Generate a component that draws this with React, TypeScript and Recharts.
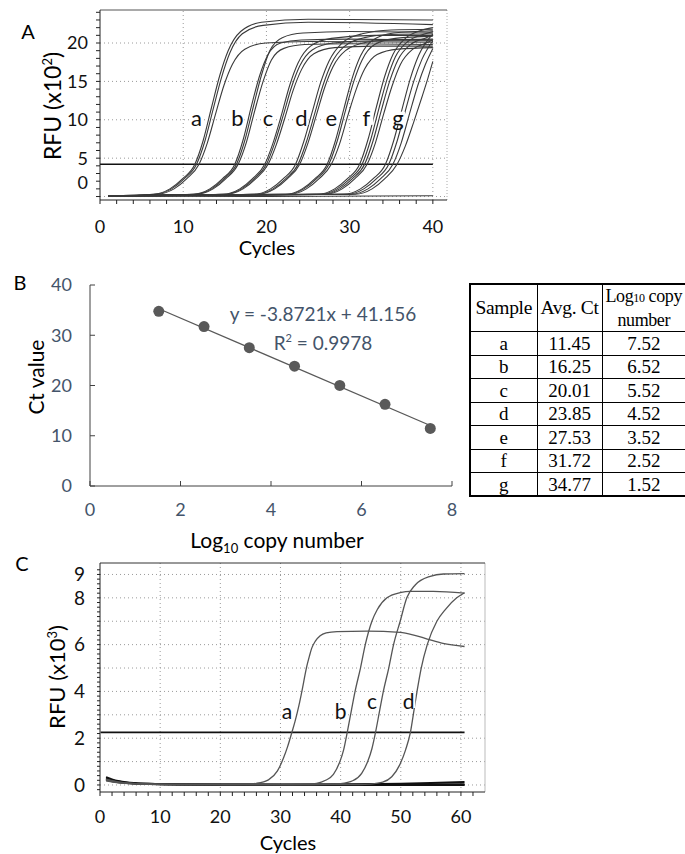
import React from "react";
import { LineChart, Line, XAxis, YAxis, ReferenceLine, ReferenceDot, ComposedChart, Scatter } from "recharts";

const FONT = "Lato, 'Open Sans', sans-serif";
const SERIF = "'Liberation Serif', 'Times New Roman', serif";
const BLUE = "#44546A";

// ---------- panel A: amplification curves (cycle, RFU x10^2) ----------
const curvesA: number[][][] = [
  [[1,0.1],[6.4,0.3],[8.4,1.0],[9.9,2.3],[11.4,4.2],[12.4,7.3],[13.4,11.6],[14.4,15.8],[15.4,19.0],[16.9,21.5],[19.4,22.7],[25,23.1],[40,23.0]],
  [[1,0.1],[6.6,0.3],[8.6,1.0],[10.1,2.3],[11.6,4.2],[12.6,7.2],[13.6,11.4],[14.6,15.5],[15.6,18.7],[17.1,21.2],[19.6,22.3],[25,22.7],[40,22.4]],
  [[1,0.1],[6.9,0.3],[8.9,1.0],[10.4,2.3],[11.9,4.2],[12.9,7.0],[13.9,10.8],[14.9,14.5],[15.9,17.2],[17.4,19.2],[19.9,20.0],[25,20.2],[40,20.1]],
  [[1,0.1],[11.2,0.3],[13.2,1.0],[14.7,2.3],[16.2,4.2],[17.2,7.4],[18.2,11.8],[19.2,15.8],[20.2,18.5],[21.7,20.0],[24.2,20.4],[30,20.5],[40,20.4]],
  [[1,0.1],[11.4,0.3],[13.4,1.0],[14.9,2.3],[16.4,4.2],[17.4,7.3],[18.4,11.6],[19.4,15.8],[20.4,19.0],[21.9,20.7],[24.4,21.3],[30,21.5],[40,21.4]],
  [[1,0.1],[11.6,0.3],[13.6,1.0],[15.1,2.3],[16.6,4.2],[17.6,7.1],[18.6,11.2],[19.6,15.0],[20.6,17.8],[22.1,19.3],[24.6,19.8],[30,19.9],[40,19.8]],
  [[1,0.1],[14.8,0.3],[16.8,1.0],[18.3,2.3],[19.8,4.2],[20.8,7.0],[21.8,10.6],[22.8,14.5],[23.8,17.4],[25.3,19.6],[27.8,20.6],[33,21.0],[40,21.0]],
  [[1,0.1],[15,0.3],[17,1.0],[18.5,2.3],[20,4.2],[21,7.0],[22,10.5],[23,14.2],[24,17.0],[25.5,19.1],[28,20.0],[33,20.3],[40,20.3]],
  [[1,0.1],[15.2,0.3],[17.2,1.0],[18.7,2.3],[20.2,4.2],[21.2,6.8],[22.2,10.2],[23.2,13.8],[24.2,16.5],[25.7,18.6],[28.2,19.4],[33,19.6],[40,19.6]],
  [[1,0.1],[18.5,0.3],[20.5,1.0],[22,2.3],[23.5,4.2],[24.5,7.2],[25.5,11.0],[26.5,14.8],[27.5,17.6],[29,19.9],[31.5,21.2],[35,21.7],[40,21.8]],
  [[1,0.1],[18.8,0.3],[20.8,1.0],[22.3,2.3],[23.8,4.2],[24.8,7.1],[25.8,10.8],[26.8,14.5],[27.8,17.3],[29.3,19.5],[31.8,20.7],[35,21.1],[40,21.2]],
  [[1,0.1],[19,0.3],[21,1.0],[22.5,2.3],[24,4.2],[25,7.0],[26,10.6],[27,14.2],[28,16.9],[29.5,19.0],[32,20.1],[35,20.4],[40,20.5]],
  [[1,0.1],[22.3,0.3],[24.3,1.0],[25.8,2.3],[27.3,4.2],[28.3,7.3],[29.3,11.4],[30.3,15.4],[31.3,18.3],[32.8,20.4],[35.3,21.3],[40,21.6]],
  [[1,0.1],[22.5,0.3],[24.5,1.0],[26,2.3],[27.5,4.2],[28.5,7.2],[29.5,11.2],[30.5,15.0],[31.5,17.8],[33,19.8],[35.5,20.6],[40,20.9]],
  [[1,0.1],[22.8,0.3],[24.8,1.0],[26.3,2.3],[27.8,4.2],[28.8,6.9],[29.8,10.6],[30.8,14.0],[31.8,16.6],[33.3,18.5],[35.8,19.2],[40,19.4]],
  [[1,0.1],[26.2,0.3],[28.2,1.0],[29.7,2.3],[31.2,4.2],[32.2,7.4],[33.2,11.6],[34.2,15.6],[35.2,18.5],[36.7,20.6],[38.5,21.6],[40,22.0]],
  [[1,0.1],[26.5,0.3],[28.5,1.0],[30,2.3],[31.5,4.2],[32.5,7.3],[33.5,11.4],[34.5,15.3],[35.5,18.2],[37,20.2],[38.8,21.1],[40,21.5]],
  [[1,0.1],[26.8,0.3],[28.8,1.0],[30.3,2.3],[31.8,4.2],[32.8,7.2],[33.8,11.2],[34.8,15.0],[35.8,17.8],[37.3,19.8],[39,20.6],[40,21.0]],
  [[1,0.1],[27.1,0.3],[29.1,1.0],[30.6,2.3],[32.1,4.2],[33.1,7.0],[34.1,10.8],[35.1,14.4],[36.1,17.2],[37.6,19.2],[39.2,20.0],[40,20.4]],
  [[1,0.1],[29.3,0.3],[31.3,1.0],[32.8,2.3],[34.3,4.2],[35.3,7.3],[36.3,11.4],[37.3,15.4],[38.3,18.4],[40,21.2]],
  [[1,0.1],[29.7,0.3],[31.7,1.0],[33.2,2.3],[34.7,4.2],[35.7,7.2],[36.7,11.2],[37.7,15.0],[38.7,17.9],[40,20.3]],
  [[1,0.1],[30.2,0.3],[32.2,1.0],[33.7,2.3],[35.2,4.2],[36.2,7.0],[37.2,10.8],[38.2,14.5],[39.1,17.2],[40,19.3]],
  [[1,0.1],[30.7,0.3],[32.7,1.0],[34.2,2.3],[35.7,4.2],[36.7,6.6],[37.7,9.7],[38.7,13.0],[39.4,15.4],[40,17.6]],
  [[1,0.05],[20,0.0],[40,0.1]],
];
const thresholdA = 4.2;
const labelNamesA = ["a", "b", "c", "d", "e", "f", "g"];
const labelCyclesA = [11.6, 16.5, 20.2, 24.2, 27.8, 32.0, 35.8];
const labelLevelA = 10.2;
const xTicksA = [0,2,4,6,8,10,12,14,16,18,20,22,24,26,28,30,32,34,36,38,40];
const xLabelsA = [0, 10, 20, 30, 40];
const yTicksA = Array.from({ length: 25 }, (_, i) => i);
const yLabelsA = [0, 5, 10, 15, 20];

// ---------- panel B: standard curve ----------
const samples = ["a", "b", "c", "d", "e", "f", "g"];
const avgCt = [11.45, 16.25, 20.01, 23.85, 27.53, 31.72, 34.77];
const logCopies = [7.52, 6.52, 5.52, 4.52, 3.52, 2.52, 1.52];
const trendX = [1.52, 7.52];
const trendY = [35.27, 12.04];
const xTicksB = [0, 2, 4, 6, 8];
const yTicksB = [0, 10, 20, 30, 40];

// ---------- panel C: amplification curves (cycle, RFU x10^3) ----------
const baselinesC: number[][][] = [
  [[1,0.33],[2,0.24],[3,0.17],[5,0.1],[8,0.05],[12,0.03],[20,0.01],[30,0.01],[40,0.02],[50,0.05],[55,0.08],[60.6,0.13]],
  [[1,0.28],[2,0.2],[4,0.11],[7,0.06],[12,0.03],[20,0.02],[40,0.02],[60.6,0.03]],
  [[1,0.22],[2,0.16],[4,0.09],[8,0.04],[15,0.02],[30,0.0],[60.6,0.0]],
];
const curvesC: number[][][] = [
  [[1,0.25],[3,0.13],[6,0.06],[12,0.03],[20,0.02],[24,0.03],[26,0.07],[28,0.22],[29.5,0.6],[30.5,1.15],[31.2,1.65],[31.9,2.25],[32.4,2.7],[32.8,3.1],[33.2,3.55],[33.6,4.05],[34.0,4.6],[34.4,5.1],[34.8,5.5],[35.2,5.85],[35.8,6.15],[36.6,6.38],[37.6,6.5],[39.4,6.56],[44.4,6.58],[49.9,6.52],[52,6.42],[54.4,6.24],[57,6.05],[60.6,5.92]],
  [[1,0.24],[3,0.12],[6,0.05],[15,0.02],[30,0.02],[34,0.03],[36,0.07],[37.5,0.2],[38.8,0.45],[39.8,0.95],[40.5,1.5],[41.1,2.25],[41.8,3.2],[42.4,4.0],[43.3,5.0],[44.1,6.0],[45.2,7.0],[46.1,7.5],[47.7,8.0],[49.9,8.22],[51.6,8.28],[55.4,8.28],[60.6,8.2]],
  [[1,0.2],[4,0.08],[10,0.03],[30,0.02],[38,0.03],[40,0.06],[42,0.18],[43.5,0.5],[44.5,1.0],[45.2,1.55],[45.8,2.25],[46.5,3.2],[47.1,4.0],[48.0,5.0],[48.8,6.0],[49.9,7.0],[51.0,8.0],[52.4,8.55],[54.9,8.92],[57.1,9.02],[60.6,9.04]],
  [[1,0.18],[4,0.07],[10,0.02],[35,0.01],[43,0.02],[45,0.04],[47,0.12],[48.5,0.35],[49.8,0.85],[50.8,1.5],[51.6,2.25],[52.2,3.2],[52.7,4.0],[53.4,5.0],[54.4,6.0],[56.0,7.0],[57.4,7.5],[59.3,8.0],[60.6,8.22]],
];
const thresholdC = 2.25;
const labelNamesC = ["a", "b", "c", "d"];
const labelCyclesC = [31.1, 40.0, 45.2, 51.3];
const labelLevelsC = [3.13, 3.13, 3.56, 3.56];
const xTicksC = [0,2,4,6,8,10,12,14,16,18,20,22,24,26,28,30,32,34,36,38,40,42,44,46,48,50,52,54,56,58,60,62];
const xLabelsC = [0, 10, 20, 30, 40, 50, 60];
const yTicksC = Array.from({ length: 48 }, (_, i) => (i - 1) / 5);
const yLabelsC = [0, 2, 4, 6, 8, 9];
const yGridC = [0, 1, 2, 3, 4, 5, 6, 7, 8, 9];

const toPts = (c: number[][]) => c.map(([x, y]) => ({ x, y }));

const xTick = (labels: number[], size: number, color: string) => (p: any) => {
  const v = p.payload.value;
  if (!labels.includes(v)) return <g />;
  return (
    <text x={p.x} y={p.y} dy="0.71em" textAnchor="middle" fontSize={size} fill={color} fontFamily={FONT}>{v}</text>
  );
};
const yTick = (labels: number[], size: number, color: string, shift: Record<number, number> = {}) => (p: any) => {
  const v = p.payload.value;
  if (!labels.includes(v)) return <g />;
  return (
    <text x={p.x} y={p.y + (shift[v] ?? 0)} dy="0.355em" textAnchor="end" fontSize={size} fill={color} fontFamily={FONT}>{v}</text>
  );
};
const noTick = () => <g />;

// curve letter with a small white patch behind it (hides the grid dots)
const letter = (name: string, size: number, bg: boolean) => (p: any) => (
  <g>
    {bg && <rect x={p.cx - size * 0.32} y={p.cy - size * 0.3} width={size * 0.64} height={size * 0.6} fill="#fff" />}
    <text x={p.cx} y={p.cy} dy="0.33em" textAnchor="middle" fontSize={size} fill="#111" fontFamily={FONT}>{name}</text>
  </g>
);

function Txt({ x, y, size, rotate, color, family, children }: any) {
  return (
    <div
      style={{
        position: "absolute", left: x, top: y, whiteSpace: "nowrap", lineHeight: 1,
        transform: `translate(-50%, -50%)${rotate ? " rotate(-90deg)" : ""}`,
        fontSize: size, color: color || "#000", fontFamily: family || FONT,
      }}
    >
      {children}
    </div>
  );
}

function PanelA() {
  const dom: [number, number] = [0, 41.7];
  return (
    <div style={{ position: "absolute", left: 0, top: 0 }}>
      <LineChart width={460} height={252} margin={{ top: 6, left: 60, right: 13, bottom: 22 }}>
        <XAxis type="number" dataKey="x" domain={dom} allowDataOverflow ticks={xTicksA} interval={0} height={30}
          tickSize={4} tickMargin={16} stroke="#222" tick={xTick(xLabelsA, 18, "#111")} />
        <XAxis xAxisId="top" orientation="top" type="number" domain={dom} allowDataOverflow ticks={xTicksA} interval={0}
          height={4} tickSize={-4} stroke="#555" tick={noTick} />
        <YAxis type="number" domain={[-0.45, 24.3]} allowDataOverflow ticks={yTicksA} interval={0} width={40}
          tickSize={4} tickMargin={8} stroke="#222" tick={yTick(yLabelsA, 18, "#111", { 0: -13.5 })} />
        {[10, 20, 30, 40].map((v) => (
          <ReferenceLine key={"gx" + v} x={v} stroke="#9a9a9a" strokeDasharray="1 3" />
        ))}
        {[0, 5, 10, 15, 20].map((v) => (
          <ReferenceLine key={"gy" + v} y={v} stroke="#9a9a9a" strokeDasharray="1 3" />
        ))}
        <ReferenceLine x={41.7} stroke="#aaa" strokeDasharray="1 2" />
        {labelNamesA.map((n, i) => (
          <ReferenceDot key={n} x={labelCyclesA[i]} y={labelLevelA} r={1} shape={letter(n, 22, true)} />
        ))}
        <ReferenceLine segment={[{ x: 0, y: thresholdA }, { x: 40, y: thresholdA }]} stroke="#111" strokeWidth={1.6} />
        {curvesA.map((c, i) => (
          <Line key={i} data={toPts(c)} dataKey="y" type="monotone" stroke="#3a3a3a" strokeWidth={1.1}
            dot={false} isAnimationActive={false} />
        ))}
      </LineChart>
    </div>
  );
}

function PanelB() {
  const pts = logCopies.map((x, i) => ({ x, y: avgCt[i] }));
  const trend = trendX.map((x, i) => ({ x, y: trendY[i] }));
  return (
    <div style={{ position: "absolute", left: 0, top: 270 }}>
      <ComposedChart width={465} height={265} margin={{ top: 15, left: 50, right: 13, bottom: 29 }}>
        <XAxis type="number" dataKey="x" domain={[0, 8]} ticks={xTicksB} interval={0} height={20}
          tickSize={-5} tickMargin={22} stroke="#404040" tick={xTick(xTicksB, 18, BLUE)} />
        <YAxis type="number" dataKey="y" domain={[0, 40]} ticks={yTicksB} interval={0} width={40}
          tickSize={-5} tickMargin={23} stroke="#404040" tick={yTick(yTicksB, 18, BLUE)} />
        <Line data={trend} dataKey="y" type="linear" stroke="#595959" strokeWidth={1.3} dot={false} isAnimationActive={false} />
        <Scatter data={pts} dataKey="y" fill="#595959" isAnimationActive={false}
          shape={(p: any) => <circle cx={p.cx} cy={p.cy} r={5.5} fill="#595959" />} />
      </ComposedChart>
    </div>
  );
}

function PanelC() {
  const dom: [number, number] = [0, 64];
  return (
    <div style={{ position: "absolute", left: 0, top: 545 }}>
      <LineChart width={500} height={305} margin={{ top: 14, left: 60, right: 15, bottom: 28 }}>
        <XAxis type="number" dataKey="x" domain={dom} allowDataOverflow ticks={xTicksC} interval={0} height={30}
          tickSize={4} tickMargin={14} stroke="#222" tick={xTick(xLabelsC, 18, "#111")} />
        <XAxis xAxisId="top" orientation="top" type="number" domain={dom} allowDataOverflow ticks={xTicksC} interval={0}
          height={4} tickSize={-4} stroke="#333" tick={noTick} />
        <YAxis type="number" domain={[-0.3, 9.49]} allowDataOverflow ticks={yTicksC} interval={0} width={40}
          tickSize={3} tickMargin={12} stroke="#222" tick={yTick(yLabelsC, 19, "#111")} />
        {[10, 20, 30, 40, 50, 60].map((v) => (
          <ReferenceLine key={"gx" + v} x={v} stroke="#9a9a9a" strokeDasharray="1 3" />
        ))}
        {yGridC.map((v) => (
          <ReferenceLine key={"gy" + v} y={v} stroke="#9a9a9a" strokeDasharray="1 3" />
        ))}
        <ReferenceLine x={64} stroke="#bbb" />
        {labelNamesC.map((n, i) => (
          <ReferenceDot key={n} x={labelCyclesC[i]} y={labelLevelsC[i]} r={1} shape={letter(n, 21, true)} />
        ))}
        <ReferenceLine segment={[{ x: 0.1, y: thresholdC }, { x: 60.6, y: thresholdC }]} stroke="#111" strokeWidth={1.8} />
        {baselinesC.map((c, i) => (
          <Line key={"b" + i} data={toPts(c)} dataKey="y" type="monotone" stroke="#111" strokeWidth={2}
            dot={false} isAnimationActive={false} />
        ))}
        {curvesC.map((c, i) => (
          <Line key={i} data={toPts(c)} dataKey="y" type="monotone" stroke="#555" strokeWidth={1.3}
            dot={false} isAnimationActive={false} />
        ))}
      </LineChart>
    </div>
  );
}

function CtTable() {
  const cell: React.CSSProperties = { border: "1.5px solid #000", textAlign: "center", padding: 0, lineHeight: 1 };
  return (
    <table
      style={{
        position: "absolute", left: 469, top: 283, borderCollapse: "collapse", fontFamily: SERIF,
        fontSize: 19, border: "2px solid #000", tableLayout: "fixed", width: 216,
      }}
    >
      <colgroup>
        <col style={{ width: 67 }} />
        <col style={{ width: 65 }} />
        <col style={{ width: 84 }} />
      </colgroup>
      <tbody>
        <tr style={{ height: 46 }}>
          <td style={{ ...cell, fontSize: 19.5, letterSpacing: -0.3 }}>Sample</td>
          <td style={{ ...cell, fontSize: 19.5, letterSpacing: -0.3 }}>Avg. Ct</td>
          <td style={{ ...cell, fontSize: 18, lineHeight: "22px", whiteSpace: "nowrap", letterSpacing: -0.4 }}>
            Log<span style={{ fontSize: 12 }}>10</span> copy<br />number
          </td>
        </tr>
        {samples.map((s, i) => (
          <tr key={s} style={{ height: 23.5 }}>
            <td style={cell}>{s}</td>
            <td style={cell}>{avgCt[i].toFixed(2)}</td>
            <td style={cell}>{logCopies[i].toFixed(2)}</td>
          </tr>
        ))}
      </tbody>
    </table>
  );
}

export default function App() {
  return (
    <div style={{ position: "fixed", left: 0, top: 0, width: 685, height: 854, overflow: "hidden", background: "#fff" }}>
      <PanelA />
      <Txt x={28} y={31} size={20}>A</Txt>
      <Txt x={52} y={106} size={23} rotate>RFU (x10<sup style={{ fontSize: 13 }}>2</sup>)</Txt>
      <Txt x={267} y={247} size={20}>Cycles</Txt>

      <PanelB />
      <Txt x={20} y={282} size={20}>B</Txt>
      <Txt x={35} y={377} size={21} rotate>Ct value</Txt>
      <Txt x={277} y={542} size={21}>
        Log<sub style={{ fontSize: 13 }}>10</sub> copy number
      </Txt>
      <Txt x={323} y={313} size={19} color={BLUE}>y = -3.8721x + 41.156</Txt>
      <Txt x={323} y={342} size={19} color={BLUE}>
        R<sup style={{ fontSize: 11 }}>2</sup> = 0.9978
      </Txt>
      <CtTable />

      <PanelC />
      <Txt x={22} y={563} size={20}>C</Txt>
      <Txt x={57} y={677} size={22} rotate>RFU (x10<sup style={{ fontSize: 13 }}>3</sup>)</Txt>
      <Txt x={288} y={842} size={20}>Cycles</Txt>
    </div>
  );
}
